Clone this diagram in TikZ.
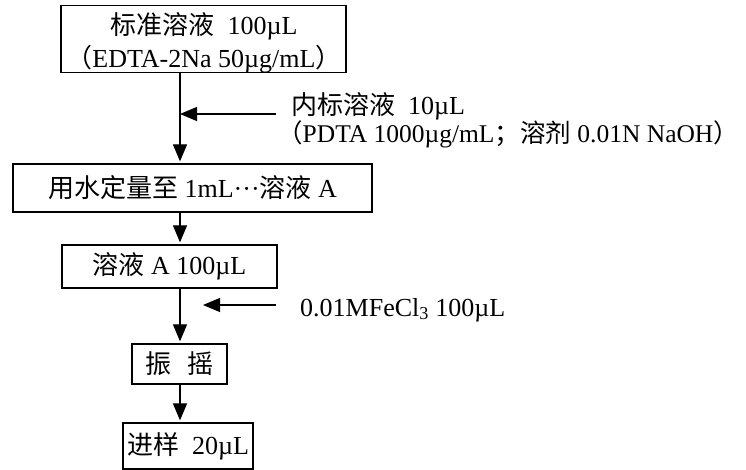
\documentclass[tikz,border=0pt]{standalone}
\usepackage{fontspec}
\setmainfont{Liberation Serif}
\newfontfamily\cjk{Noto Sans CJK SC}
\newcommand{\zh}[1]{{\cjk #1}}
\usetikzlibrary{arrows.meta}
\begin{document}
\begin{tikzpicture}[x=1pt,y=-1pt,
  every node/.style={font=\fontsize{26}{33}\selectfont},
  box/.style={draw, line width=1.3pt, inner sep=0pt, align=center},
  flow/.style={line width=1.2pt, -{Triangle[length=17pt,width=14pt]}, shorten >=2pt},
  side/.style={line width=1.2pt, -{Triangle[length=17pt,width=14pt]}},
  lbl/.style={anchor=base west, inner sep=0pt}]
\useasboundingbox (0,0) rectangle (746,470);
\coordinate (ax) at (180,0);
% boxes
\node[box, minimum width=285, minimum height=67] (b1) at (203.5,38.75) {};
\node[align=center, inner sep=0pt] (t1) at (204,43)
  {\zh{标准溶液}\ \ 100µL\\\zh{（}EDTA-2Na 50µg/mL\zh{）}};
\node[box, minimum width=359, minimum height=48] (b2) at (192.5,188)
  {\zh{用水定量至} 1mL···\zh{溶液} A};
\node[box, minimum width=215, minimum height=43] (b3) at (169.5,266.5)
  {\zh{溶液} A 100µL};
\node[box, minimum width=95, minimum height=40] (b4) at (179.5,364)
  {\zh{振\hspace{0.6em}摇}};
\node[box, minimum width=130, minimum height=46] (b5) at (188,446)
  {\zh{进样}\ \ 20µL};
% side inputs
\coordinate (s1) at (276,114);
\coordinate (s2) at (276,305);
\coordinate (e2) at (203,305);
\node[lbl] (l1) at (291,115) {\zh{内标溶液}\ \ 10µL};
\node[lbl, font=\fontsize{25.5}{33}\selectfont] (l2) at (277,143)
  {\zh{（}PDTA 1000µg/mL\zh{；溶剂} 0.01N NaOH\zh{）}};
\node[lbl] (l3) at (300,316) {0.01MFeCl\textsubscript{3} 100µL};
% connectors
\draw[flow] (b1.south -| ax) -- (b2.north -| ax);
\draw[flow] (b2.south -| ax) -- (b3.north -| ax);
\draw[flow] (b3.south -| ax) -- (b4.north -| ax);
\draw[flow] (b4.south -| ax) -- (b5.north -| ax);
\draw[side] (s1) -- (s1 -| ax);
\draw[side] (s2) -- (e2);
\end{tikzpicture}
\end{document}
